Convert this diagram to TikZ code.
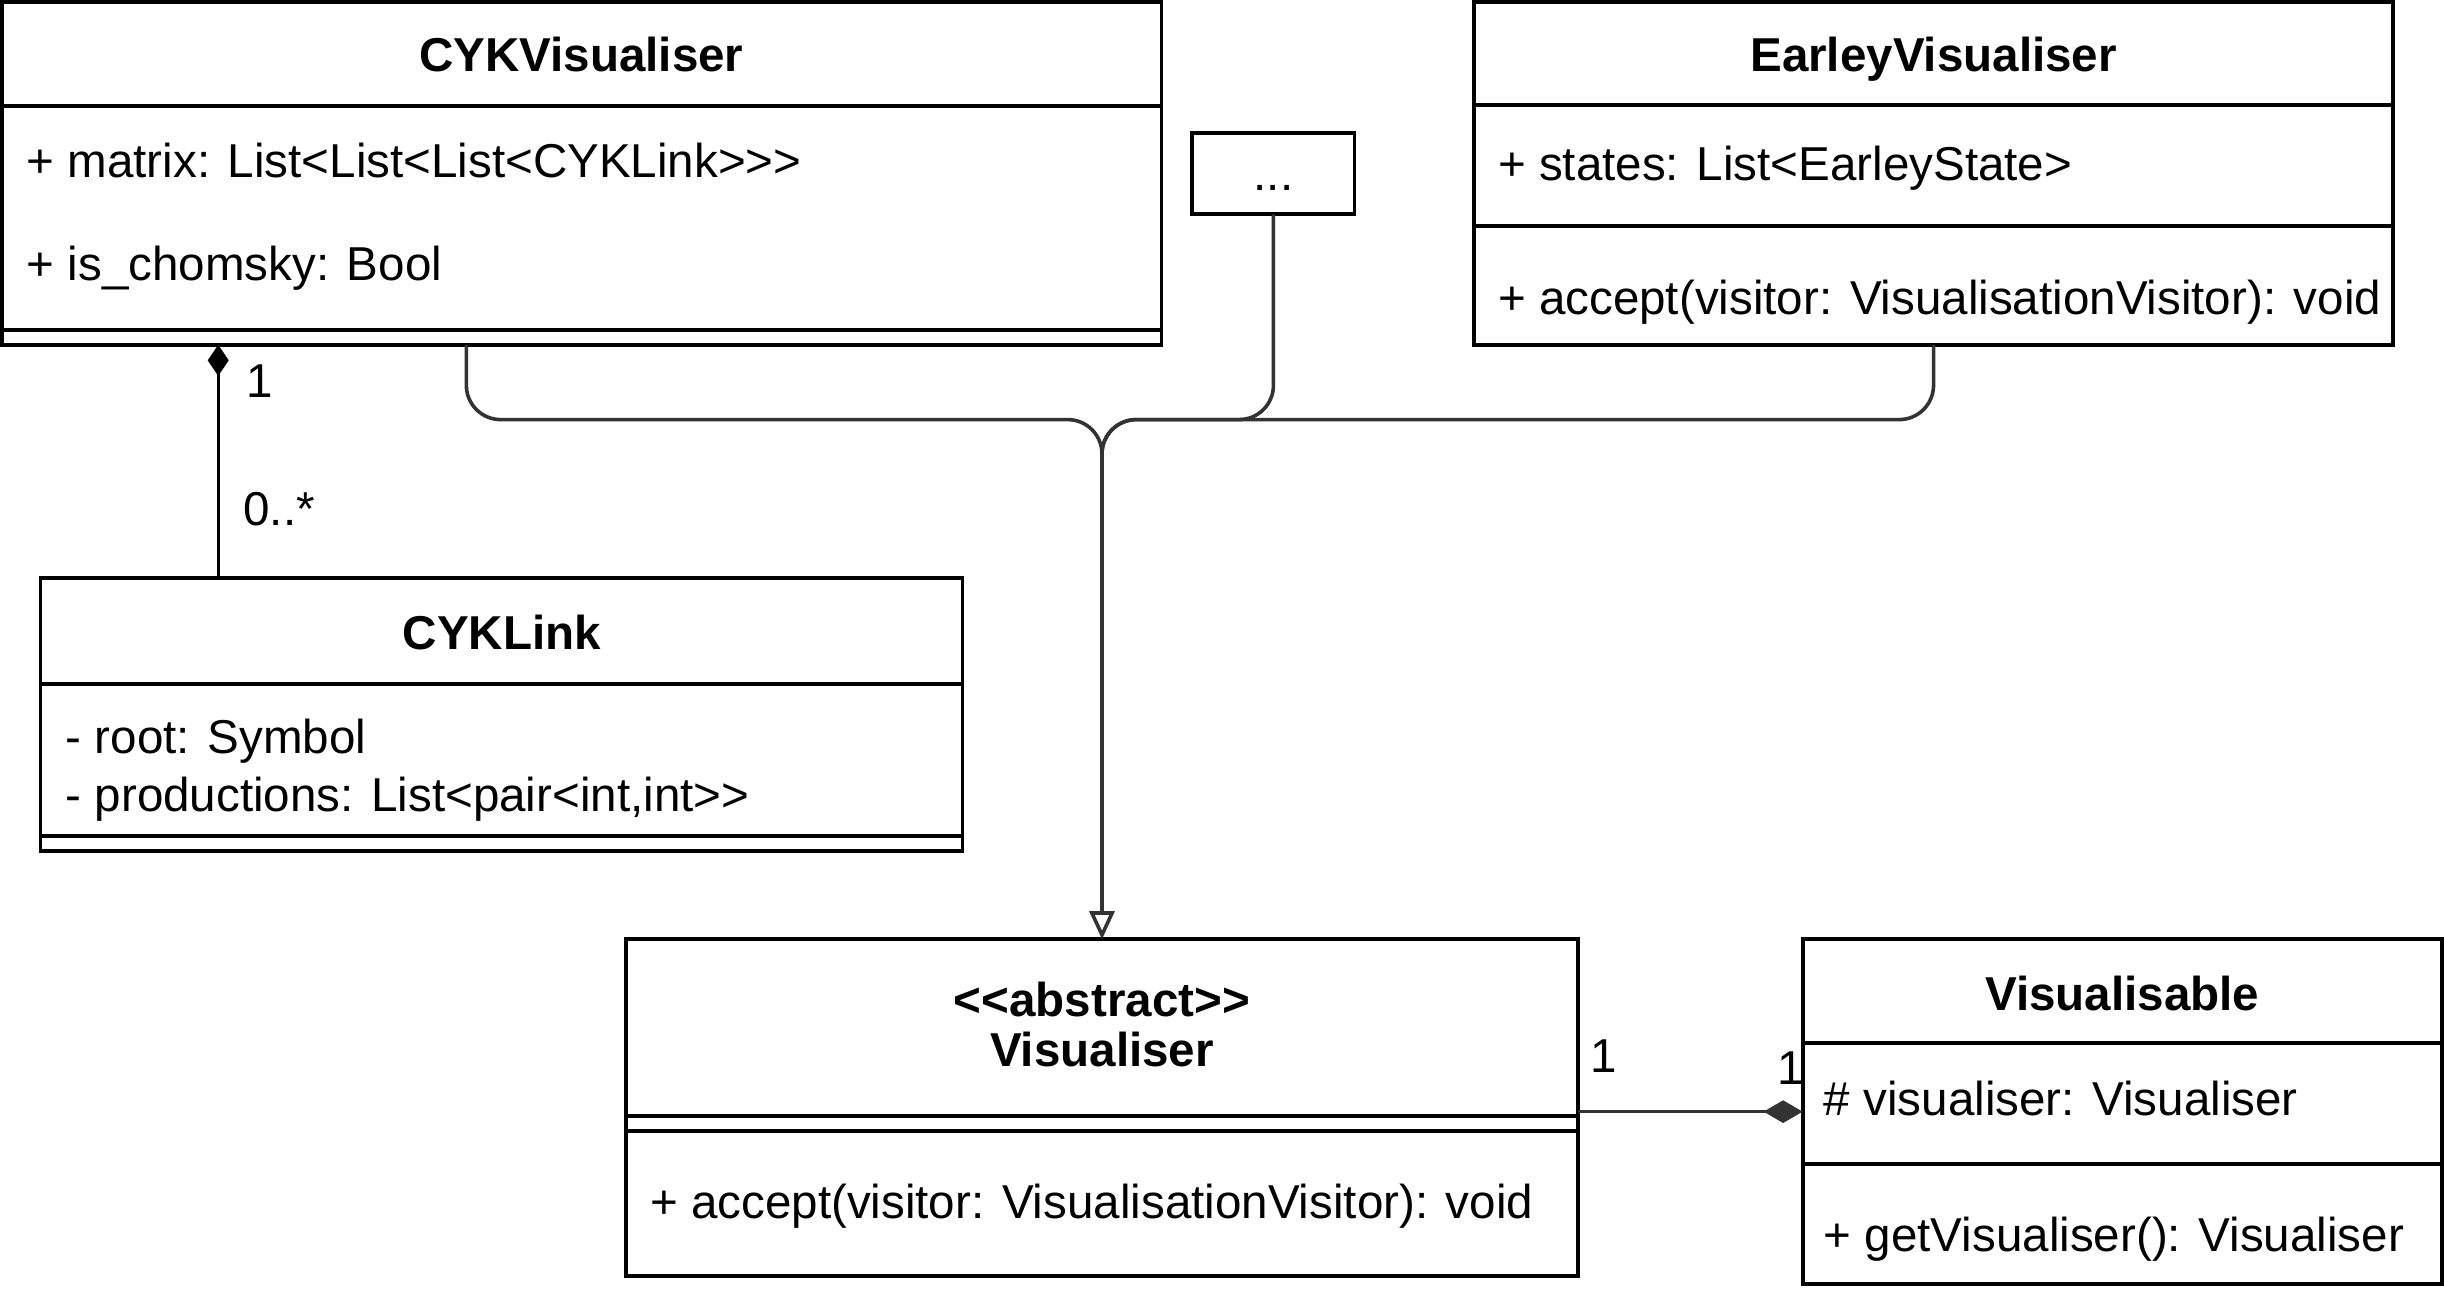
\documentclass[tikz,border=0pt]{standalone}
\usepackage{fontspec}
\setmainfont{Liberation Sans}
\usetikzlibrary{arrows.meta,calc}
\definecolor{conn}{HTML}{333333}
\begin{document}
\begin{tikzpicture}[x=1pt,y=-1pt,
  classbox/.style={draw=black,line width=2.5pt,rectangle,anchor=north west,inner sep=0pt,outer sep=0pt,fill=white},
  sep/.style={draw=black,line width=2.5pt},
  txt/.style={inner sep=0pt,font=\fontsize{30.5}{36}\selectfont,text=black},
  ttl/.style={txt,font=\fontsize{30.5}{36}\selectfont\bfseries,anchor=base},
  attr/.style={txt,anchor=base west},
  lbl/.style={txt,anchor=base west},
  conline/.style={draw=conn,line width=2.3pt},
]
\useasboundingbox (0,0) rectangle (1568,831.4);

% ---- boxes
\node[classbox,minimum width=744pt,minimum height=220pt] (cyk) at (1.2,1.2) {};
\node[classbox,minimum width=590pt,minimum height=220pt] (earley) at (945.5,1.3) {};
\node[classbox,minimum width=104pt,minimum height=52pt] (dots) at (765,85.5) {};
\node[classbox,minimum width=591.5pt,minimum height=175pt] (link) at (26,371) {};
\node[classbox,minimum width=611pt,minimum height=216pt] (vis) at (401.5,602.6) {};
\node[classbox,minimum width=410pt,minimum height=221pt] (visable) at (1156.5,602.6) {};

% ---- separators
\draw[sep] ($(cyk.north west)+(0,66.6)$) -- ($(cyk.north east)+(0,66.6)$);
\draw[sep] ($(cyk.north west)+(0,210.3)$) -- ($(cyk.north east)+(0,210.3)$);
\draw[sep] ($(earley.north west)+(0,66.3)$) -- ($(earley.north east)+(0,66.3)$);
\draw[sep] ($(earley.north west)+(0,143.7)$) -- ($(earley.north east)+(0,143.7)$);
\draw[sep] ($(link.north west)+(0,67.8)$) -- ($(link.north east)+(0,67.8)$);
\draw[sep] ($(link.north west)+(0,165.3)$) -- ($(link.north east)+(0,165.3)$);
\draw[sep] ($(vis.north west)+(0,113.5)$) -- ($(vis.north east)+(0,113.5)$);
\draw[sep] ($(vis.north west)+(0,122.8)$) -- ($(vis.north east)+(0,122.8)$);
\draw[sep] ($(visable.north west)+(0,66.8)$) -- ($(visable.north east)+(0,66.8)$);
\draw[sep] ($(visable.north west)+(0,144)$) -- ($(visable.north east)+(0,144)$);

% ---- texts
\node[ttl] (cykT) at (373,46) {CYKVisualiser};
\node[attr] (cykA1) at (17,114) {+ matrix: List<List<List<CYKLink>\kern0pt>\kern0pt>};
\node[attr] (cykA2) at (17,180) {+ is\_chomsky: Bool};

\node[ttl] (earleyT) at (1240.5,46) {EarleyVisualiser};
\node[attr] (earleyA1) at (961,115.5) {+ states: List<EarleyState>};
\node[attr] (earleyM1) at (961,202) {+ accept(visitor: VisualisationVisitor): void};

\node[txt,anchor=base] (dotsT) at (817,122) {...};

\node[ttl] (linkT) at (322,417) {CYKLink};
\node[attr] (linkA1) at (42,483.5) {- root: Symbol};
\node[attr] (linkA2) at (42,520.5) {- productions: List<pair<int,int>\kern0pt>};

\node[ttl] (visT1) at (707,652) {<\kern0pt<abstract>\kern0pt>};
\node[ttl] (visT2) at (707,684) {Visualiser};
\node[attr] (visM1) at (417,782) {+ accept(visitor: VisualisationVisitor): void};

\node[ttl] (visableT) at (1361.5,648) {Visualisable};
\node[attr] (visableA1) at (1170,715.5) {\# visualiser: Visualiser};
\node[attr] (visableM1) at (1170,803) {+ getVisualiser(): Visualiser};

% ---- composition CYKVisualiser <>-- CYKLink
\draw[draw=black,line width=2.1pt,{Diamond[length=20pt,width=13.5pt,fill=black]}-]
  ($(cyk.south west)+(138.8,0)$) -- ($(link.north west)+(114,0)$);
\node[lbl] (m1) at (158,255) {1};
\node[lbl] (m2) at (156,337) {0..*};

% ---- generalisation to Visualiser
\coordinate (merge) at ($(vis.north)+(0,-333.4)$);
\coordinate (down) at ($(vis.north)+(0,-300)$);
\draw[conline,rounded corners=22pt] ($(cyk.south west)+(298,0)$) |- (merge) -- (down);
\draw[conline,rounded corners=22pt] (dots.south) |- (merge) -- (down);
\draw[conline,rounded corners=22pt] ($(earley.south west)+(295,0)$) |- (merge) -- (down);
\draw[conline,-{Triangle[open,length=18pt,width=16pt,fill=white]}] ($(down)+(0,-1)$) -- (vis.north);

% ---- composition Visualiser --<> Visualisable
\coordinate (c1) at ($(vis.north east)+(0,110.6)$);
\draw[conline,-{Diamond[length=25pt,width=14.6pt,fill=conn]}] (c1) -- (c1 -| visable.west);
\node[lbl] (m3) at (1020,688) {1};
\node[lbl] (m4) at (1140,696) {1};
\end{tikzpicture}
\end{document}
